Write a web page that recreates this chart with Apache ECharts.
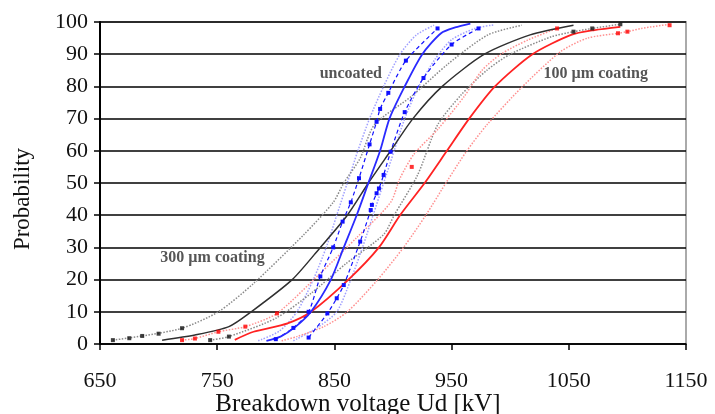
<!DOCTYPE html>
<html>
<head>
<meta charset="utf-8">
<script src="https://cdn.jsdelivr.net/npm/echarts@6/dist/echarts.min.js"></script>
<style>
html,body{margin:0;padding:0;background:#fff;overflow:hidden;}
#chart{width:715px;height:414px;}
</style>
</head>
<body>
<div id="chart"></div>
<script>
// ---- Uncoated (blue) ----
const blueFitX   = [792, 804, 817, 830, 847, 858, 869, 879, 889, 897, 910, 925, 941, 953, 966];
const blueFitY   = [1, 2.3, 5.4, 10, 20, 30, 40, 50, 60, 70, 80, 90, 96.5, 98.3, 99.5];
const blueLoX    = [785, 803, 818, 832, 843, 852, 861, 870, 880, 892, 906, 920, 935];
const blueLoY    = [1, 4, 10, 20, 30, 40, 50, 60, 70, 80, 90, 96, 99];
const blueHiX    = [815, 835, 852, 864, 874, 883, 892, 901, 910, 922, 936, 950, 970, 986];
const blueHiY    = [1, 5, 10, 20, 30, 40, 50, 60, 70, 80, 88.5, 94.5, 98, 99.1];
const blueDataAX = [800, 815, 828, 838, 849, 857, 864, 871, 880, 886, 889, 896, 911, 938];
const blueDataAY = [1.5, 5, 10, 21, 30, 38, 44, 51.5, 62, 69, 73, 78, 88, 98];
const blueDataBX = [828, 844, 852, 858, 872, 881, 882, 886, 888, 892, 898, 910, 926, 950, 973];
const blueDataBY = [2, 9.5, 14.2, 18.3, 31.8, 41.6, 43.2, 46.8, 48.3, 52.5, 59.7, 72, 82.6, 93, 98];

// ---- 300 um coating (black) ----
const blackFitX  = [703, 731, 760, 779, 814, 838, 861, 879, 898, 917, 942, 978, 1017, 1054];
const blackFitY  = [1.2, 2.8, 5.4, 10, 20, 30, 40, 50, 60, 70, 80, 90, 96, 99];
const blackLoX   = [661, 686, 720, 751, 781, 824, 849, 858, 872, 884, 916, 947, 981, 1010];
const blackLoY   = [1.2, 2.5, 4.9, 10, 18.8, 34, 44, 50, 57.7, 68, 77, 87, 96, 99];
const blackHiX   = [744, 760, 800, 830, 860, 892, 901, 921, 938, 958, 980, 1000, 1035, 1054, 1070, 1094];
const blackHiY   = [1.2, 2.3, 8, 15.7, 25, 34, 40, 52.5, 68, 77.3, 85, 90, 95.4, 97, 98, 99.3];
const blackMarkX = [661, 675, 686, 700, 720, 744, 760, 1054, 1070, 1094];
const blackMarkY = [1.2, 1.8, 2.5, 3.2, 4.9, 1.2, 2.3, 97, 98, 99.3];

// ---- 100 um coating (red) ----
const redFitX    = [765, 781, 810, 830, 862, 888, 906, 927, 946, 965, 987, 1019, 1052, 1072, 1094];
const redFitY    = [1.3, 3.8, 6.4, 10, 20, 30, 40, 50, 60, 70, 80, 90, 96, 97.5, 98.5];
const redLoX     = [720, 731, 751, 774, 801, 838, 869, 898, 906, 918, 939, 961, 976, 992, 1015, 1040];
const redLoY     = [1.2, 1.7, 3.8, 5.4, 9.5, 22, 33, 44, 51.5, 59, 67, 77, 85, 90, 94.4, 98];
const redHiX     = [805, 818, 841, 861, 887, 909, 928, 946, 963, 980, 1009, 1043, 1066, 1092, 1100, 1112, 1136];
const redHiY     = [1, 2.3, 5.4, 10, 20, 30, 40, 50.5, 60, 68, 79.4, 90.8, 95, 96.5, 97, 98, 99.3];
const redMarkX   = [720, 731, 751, 774, 801, 916, 1040, 1092, 1100, 1136];
const redMarkY   = [1.2, 1.7, 3.8, 5.4, 9.5, 55, 98, 96.5, 97, 99];

// ---- annotations ----
const noteText = ['uncoated', '100 \u00b5m coating', '300 \u00b5m coating'];
const noteX    = [864, 1073, 746];
const noteY    = [84, 84, 26.7];

const xTicks = [650, 750, 850, 950, 1050, 1150];
const yTicks = [0, 10, 20, 30, 40, 50, 60, 70, 80, 90, 100];

const zip = (xs, ys) => xs.map((x, i) => [x, ys[i]]);
const FONT = '"Liberation Serif", "Times New Roman", serif';

function line(name, xs, ys, color, type, width, withSym) {
  return {
    name, type: 'line', data: zip(xs, ys),
    smooth: 0.25,
    showSymbol: !!withSym, symbol: 'rect', symbolSize: 4,
    itemStyle: { color: color },
    lineStyle: { color: color, type: type, width: width },
    silent: true, animation: false, z: 3
  };
}
function marks(name, xs, ys, color) {
  return {
    name, type: 'scatter', data: zip(xs, ys), symbol: 'rect', symbolSize: 4,
    itemStyle: { color: color }, silent: true, animation: false, z: 4
  };
}

const chart = echarts.init(document.getElementById('chart'), null, { renderer: 'canvas' });
chart.setOption({
  backgroundColor: '#fff',
  animation: false,
  grid: {
    left: 100, right: 29, top: 22, bottom: 70,
    containLabel: false, outerBoundsMode: 'none',
    show: true, borderColor: '#aaa', borderWidth: 2
  },
  xAxis: {
    type: 'value', min: xTicks[0], max: xTicks[xTicks.length - 1], interval: 100,
    name: 'Breakdown voltage Ud [kV]', nameLocation: 'middle', nameGap: 48, nameMoveOverlap: false,
    nameTextStyle: { fontFamily: FONT, fontSize: 25, color: '#111', padding: [0, 70, 0, 0] },
    axisLine: { show: true, onZero: false, lineStyle: { color: '#000', width: 1.5 } },
    axisTick: { show: true, inside: false, length: 6, lineStyle: { color: '#000', width: 1.5 } },
    axisLabel: { fontFamily: FONT, fontSize: 22, color: '#111', margin: 26, formatter: v => String(v) },
    splitLine: { show: false }
  },
  yAxis: {
    type: 'value', min: yTicks[0], max: yTicks[yTicks.length - 1], interval: 10,
    name: 'Probability', nameLocation: 'middle', nameGap: 66, nameRotate: 90, nameMoveOverlap: false,
    nameTextStyle: { fontFamily: FONT, fontSize: 23, color: '#111', padding: [0, 32, 0, 0] },
    axisLine: { show: true, lineStyle: { color: '#000', width: 2 } },
    axisTick: { show: true, inside: false, length: 6, lineStyle: { color: '#000', width: 1.5 } },
    axisLabel: { fontFamily: FONT, fontSize: 22, color: '#111', margin: 12, formatter: v => String(v) },
    splitLine: { show: true, lineStyle: { color: '#000', width: 1.6 } }
  },
  series: [
    line('blueLo', blueLoX, blueLoY, '#a0a0ff', 'dotted', 1.5),
    line('blueHi', blueHiX, blueHiY, '#a0a0ff', 'dotted', 1.5),
    line('blackLo', blackLoX, blackLoY, '#8a8a8a', 'dotted', 1.5),
    line('blackHi', blackHiX, blackHiY, '#8a8a8a', 'dotted', 1.5),
    line('redLo', redLoX, redLoY, '#ff9090', 'dotted', 1.5),
    line('redHi', redHiX, redHiY, '#ff9090', 'dotted', 1.5),
    line('blueDataA', blueDataAX, blueDataAY, '#1010ff', [4, 3], 1.2, true),
    line('blueDataB', blueDataBX, blueDataBY, '#1010ff', [4, 3], 1.2, true),
    line('blackFit', blackFitX, blackFitY, '#303030', 'solid', 1.5),
    line('redFit', redFitX, redFitY, '#ff2222', 'solid', 1.8),
    line('blueFit', blueFitX, blueFitY, '#2a2aff', 'solid', 1.8),
    marks('blackMarks', blackMarkX, blackMarkY, '#111'),
    marks('redMarks', redMarkX, redMarkY, '#ff0000'),
    {
      name: 'notes', type: 'scatter', symbolSize: 0, silent: true, animation: false, z: 5,
      data: noteText.map((t, i) => ({ value: [noteX[i], noteY[i]], name: t })),
      label: {
        show: true, position: 'inside', formatter: p => p.name,
        fontFamily: FONT, fontSize: 16, fontWeight: 'bold', color: '#2a2a2a'
      }
    }
  ]
});
</script>
</body>
</html>
